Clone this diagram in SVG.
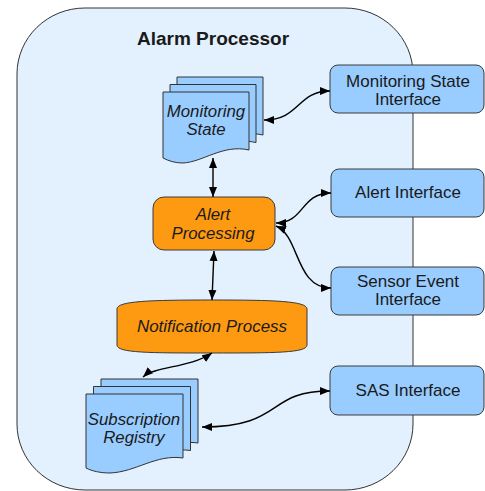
<svg xmlns="http://www.w3.org/2000/svg" width="485" height="491" viewBox="0 0 485 491">
<style>
text{font-family:"Liberation Sans",Arial,sans-serif;fill:#1a1a1a;text-anchor:middle}
.it{font-style:italic;font-size:16.8px}
.if{font-size:17px}
.iface{fill:#99ccff;stroke:#3a3a3a;stroke-width:1}
.doc{fill:#99ccff;stroke:#333;stroke-width:1}
.proc{fill:#fd9a12;stroke:#3a3a3a;stroke-width:1}
.conn{fill:none;stroke:#000;stroke-width:1.4;marker-start:url(#ah);marker-end:url(#ah)}
</style>
<defs>
<marker id="ah" markerUnits="userSpaceOnUse" markerWidth="11" markerHeight="9" refX="10" refY="4" orient="auto-start-reverse" viewBox="0 0 11 8">
<path d="M0,0 L10,4 L0,8 Z" fill="#000"/>
</marker>
<path id="msdoc" d="M0,0 H86 V58 C60,52 40,70 20,71 C12,71 6,69 0,66 Z"/>
<path id="srdoc" d="M0,0 H97 V64 C70,60 50,78 24,79 C14,79 6,77 0,74 Z"/>
</defs>
<g id="container">
<rect x="17" y="8" width="396" height="482" rx="68" ry="66" fill="#e3f1fe" stroke="#333" stroke-width="1"/>
<text x="213" y="45" style="font-weight:bold;font-size:19px">Alarm Processor</text>
</g>
<g id="monitoring-state">
<use href="#msdoc" class="doc" x="177" y="77"/>
<use href="#msdoc" class="doc" x="170" y="84.5"/>
<use href="#msdoc" class="doc" x="163" y="92"/>
<text class="it" x="206" y="117">Monitoring</text>
<text class="it" x="206" y="135">State</text>
</g>
<g id="alert-processing">
<rect x="153" y="197" width="122" height="53" rx="11" ry="11" class="proc"/>
<text class="it" x="213" y="220">Alert</text>
<text class="it" x="213" y="239">Processing</text>
</g>
<g id="notification-process">
<path class="proc" d="M117,309 C117,301 150,300 212,300 C274,300 307,301 307,309 V345 C307,353 274,353 212,353 C150,353 117,353 117,345 Z"/>
<text class="it" x="212" y="332" style="font-size:17px">Notification Process</text>
</g>
<g id="subscription-registry">
<use href="#srdoc" class="doc" x="101" y="379"/>
<use href="#srdoc" class="doc" x="93.5" y="386.5"/>
<use href="#srdoc" class="doc" x="86" y="394"/>
<text class="it" x="134" y="425">Subscription</text>
<text class="it" x="134" y="443">Registry</text>
</g>
<g id="monitoring-state-interface">
<rect x="330" y="65" width="154" height="48" rx="8" class="iface"/>
<text class="if" x="408" y="87">Monitoring State</text>
<text class="if" x="408" y="105">Interface</text>
</g>
<g id="alert-interface">
<rect x="331" y="169" width="153" height="48" rx="8" class="iface"/>
<text class="if" x="408" y="198">Alert Interface</text>
</g>
<g id="sensor-event-interface">
<rect x="331" y="267" width="153" height="48" rx="8" class="iface"/>
<text class="if" x="408" y="287">Sensor Event</text>
<text class="if" x="408" y="305">Interface</text>
</g>
<g id="sas-interface">
<rect x="330" y="366" width="154" height="49" rx="8" class="iface"/>
<text class="if" x="408" y="396">SAS Interface</text>
</g>
<g id="connectors">
<path class="conn" d="M264,120 C300,120 297,91 330,91"/>
<path class="conn" d="M213,158 V197"/>
<path class="conn" d="M214,251 L212,300"/>
<path class="conn" d="M143,377 C155,366 190,368 212,353"/>
<path class="conn" d="M276,223 C305,223 300,193 331,193"/>
<path class="conn" d="M276,226 C300,236 295,288 331,288"/>
<path class="conn" d="M202,427 C285,427 265,391 330,391"/>
</g>
</svg>
